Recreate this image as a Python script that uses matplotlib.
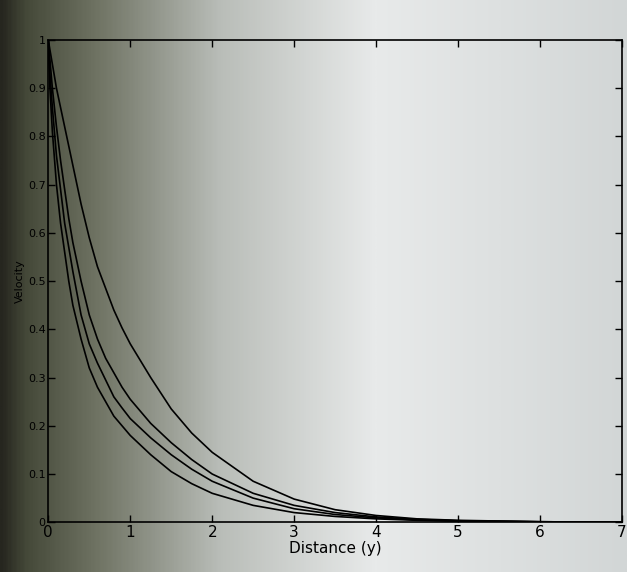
import matplotlib.pyplot as plt
import numpy as np
from matplotlib.colors import LinearSegmentedColormap

# distances (y) and the four velocity profiles
distance = [0, 0.02, 0.05, 0.1, 0.15, 0.2, 0.25, 0.3, 0.4, 0.5, 0.6, 0.7, 0.8, 0.9,
            1.0, 1.25, 1.5, 1.75, 2.0, 2.5, 3.0, 3.5, 4.0, 4.5, 5.0, 6.0, 7.0]
vel_1 = [1.0, 0.90, 0.81, 0.70, 0.62, 0.56, 0.50, 0.45, 0.38, 0.32, 0.28, 0.25, 0.22, 0.20,
         0.18, 0.14, 0.105, 0.08, 0.06, 0.035, 0.02, 0.012, 0.007, 0.004, 0.002, 0.0005, 0.0]
vel_2 = [1.0, 0.93, 0.86, 0.76, 0.69, 0.62, 0.57, 0.52, 0.43, 0.37, 0.33, 0.295, 0.26, 0.237,
         0.215, 0.175, 0.14, 0.11, 0.085, 0.05, 0.028, 0.016, 0.009, 0.005, 0.003, 0.001, 0.0]
vel_3 = [1.0, 0.96, 0.90, 0.82, 0.75, 0.69, 0.63, 0.58, 0.50, 0.43, 0.38, 0.34, 0.31, 0.28,
         0.255, 0.205, 0.165, 0.13, 0.10, 0.06, 0.035, 0.02, 0.011, 0.006, 0.003, 0.001, 0.0]
vel_4 = [1.0, 0.98, 0.95, 0.90, 0.86, 0.82, 0.78, 0.74, 0.66, 0.59, 0.53, 0.485, 0.44, 0.403,
         0.37, 0.30, 0.235, 0.185, 0.145, 0.085, 0.048, 0.026, 0.014, 0.007, 0.004, 0.001, 0.0]

x_ticks = [0, 1, 2, 3, 4, 5, 6, 7]
y_ticks = [0, 0.1, 0.2, 0.3, 0.4, 0.5, 0.6, 0.7, 0.8, 0.9, 1]
y_tick_labels = ['0', '0.1', '0.2', '0.3', '0.4', '0.5', '0.6', '0.7', '0.8', '0.9', '1']

fig = plt.figure(figsize=(6.27, 5.72), dpi=100)

# photo-like shading behind the plot (dark on the left, light on the right)
bg = fig.add_axes([0, 0, 1, 1], zorder=-1)
shade = LinearSegmentedColormap.from_list(
    'paper', [(0.0, '#26261f'), (0.04, '#454939'), (0.15, '#6e7262'),
              (0.35, '#b9bdb8'), (0.6, '#e8eaea'), (1.0, '#d2d6d6')])
grad = np.tile(np.linspace(0, 1, 400), (50, 1))
bg.imshow(grad, aspect='auto', cmap=shade, extent=[0, 1, 0, 1])
bg.axis('off')

ax = fig.add_axes([0.077, 0.087, 0.915, 0.843])
ax.set_facecolor('none')
for v in (vel_1, vel_2, vel_3, vel_4):
    ax.plot(distance, v, color='black', linewidth=1.2)

ax.set_xlim(0, 7)
ax.set_ylim(0, 1)
ax.set_xticks(x_ticks)
ax.set_xticklabels([str(t) for t in x_ticks], fontsize=11)
ax.set_yticks(y_ticks)
ax.set_yticklabels(y_tick_labels, fontsize=8)
ax.tick_params(direction='in', top=True, right=True, length=5, width=1, pad=2)
for s in ax.spines.values():
    s.set_linewidth(1.2)

ax.set_xlabel('Distance (y)', fontsize=11, labelpad=1)
ax.set_ylabel('Velocity', fontsize=8, labelpad=2)

fig.savefig('out.png', dpi=100)
